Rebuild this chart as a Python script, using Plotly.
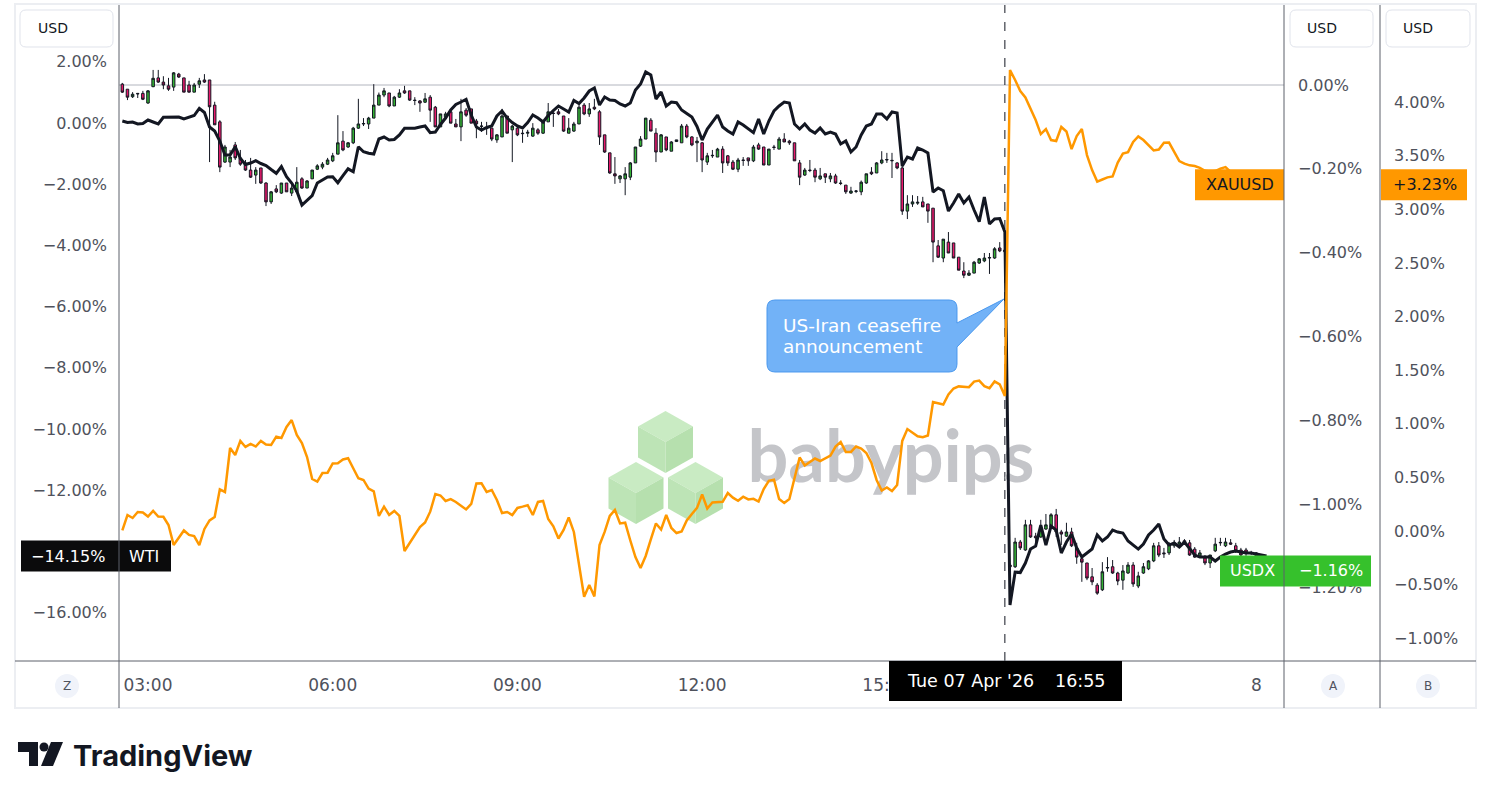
import numpy as np
import pandas as pd
import plotly.graph_objects as go

# ---------------- data (percent change) ----------------
times = list(pd.date_range("2026-04-07 02:35", "2026-04-07 16:55", freq="5min")) + \
        list(pd.date_range("2026-04-07 20:00", periods=51, freq="5min"))
event_time = pd.Timestamp("2026-04-07 16:55")
axis_time_labels = ["03:00", "06:00", "09:00", "12:00", "15:00"]

usdx_open = [0.002, -0.010, -0.028, -0.020, -0.020, -0.043, -0.004, 0.017, 0.007, -0.002,
 -0.005, 0.026, 0.017, 0.000, -0.017, 0.002, 0.012, 0.012, -0.048, -0.088,
 -0.184, -0.184, -0.143, -0.174, -0.186, -0.203, -0.215, -0.198, -0.234, -0.279,
 -0.248, -0.258, -0.234, -0.258, -0.255, -0.224, -0.246, -0.224, -0.201, -0.196,
 -0.189, -0.181, -0.165, -0.134, -0.148, -0.138, -0.103, -0.093, -0.093, -0.079,
 -0.048, -0.024, -0.019, -0.050, -0.029, -0.014, -0.014, -0.036, -0.038, -0.041,
 -0.029, -0.053, -0.100, -0.076, -0.064, -0.093, -0.100, -0.060, -0.057, -0.086,
 -0.099, -0.103, -0.103, -0.131, -0.124, -0.074, -0.107, -0.103, -0.115, -0.115,
 -0.122, -0.107, -0.115, -0.088, -0.067, -0.064, -0.074, -0.115, -0.110, -0.093,
 -0.048, -0.069, -0.053, -0.064, -0.119, -0.162, -0.212, -0.224, -0.224, -0.220,
 -0.186, -0.146, -0.129, -0.084, -0.115, -0.160, -0.124, -0.158, -0.135, -0.138,
 -0.098, -0.124, -0.138, -0.138, -0.184, -0.169, -0.172, -0.153, -0.169, -0.184,
 -0.201, -0.179, -0.174, -0.181, -0.143, -0.148, -0.191, -0.148, -0.153, -0.129,
 -0.134, -0.138, -0.186, -0.215, -0.203, -0.203, -0.224, -0.212, -0.224, -0.217,
 -0.234, -0.239, -0.258, -0.254, -0.255, -0.234, -0.208, -0.210, -0.186, -0.179,
 -0.181, -0.186, -0.198, -0.301, -0.284, -0.282, -0.279, -0.284, -0.294, -0.384,
 -0.413, -0.375, -0.377, -0.411, -0.444, -0.454, -0.449, -0.425, -0.420, -0.413,
 -0.413, -0.389, -0.394, -1.146, -1.150, -1.091, -1.110, -1.050, -1.077, -1.079,
 -1.060, -1.055, -1.026, -1.067, -1.077, -1.067, -1.105, -1.131, -1.141, -1.174,
 -1.194, -1.205, -1.153, -1.150, -1.165, -1.182, -1.165, -1.146, -1.196, -1.165,
 -1.155, -1.136, -1.100, -1.117, -1.117, -1.100, -1.096, -1.088, -1.093, -1.108,
 -1.124, -1.129, -1.141, -1.112, -1.093, -1.100, -1.093, -1.100, -1.110, -1.110,
 -1.117, -1.117, -1.124, -1.134]

usdx_high = [0.005, -0.010, -0.017, -0.019, -0.014, -0.012, 0.036, 0.036, 0.021, 0.017,
 0.031, 0.029, 0.017, 0.010, 0.005, 0.017, 0.026, 0.012, -0.040, -0.084,
 -0.143, -0.155, -0.136, -0.155, -0.179, -0.174, -0.196, -0.198, -0.232, -0.253,
 -0.239, -0.234, -0.234, -0.239, -0.196, -0.220, -0.227, -0.203, -0.189, -0.184,
 -0.174, -0.162, -0.072, -0.110, -0.136, -0.100, -0.033, -0.079, -0.076, 0.002,
 -0.018, -0.007, -0.019, -0.026, -0.010, -0.002, -0.014, -0.029, -0.036, -0.019,
 -0.024, -0.050, -0.069, -0.064, -0.060, -0.081, -0.033, -0.055, -0.057, -0.081,
 -0.088, -0.088, -0.103, -0.117, -0.057, -0.074, -0.095, -0.100, -0.107, -0.107,
 -0.091, -0.103, -0.086, -0.043, -0.060, -0.057, -0.074, -0.079, -0.088, -0.048,
 -0.043, -0.043, -0.033, -0.060, -0.119, -0.162, -0.172, -0.215, -0.196, -0.184,
 -0.148, -0.122, -0.079, -0.079, -0.103, -0.117, -0.124, -0.134, -0.131, -0.093,
 -0.093, -0.122, -0.124, -0.136, -0.162, -0.155, -0.150, -0.146, -0.167, -0.179,
 -0.174, -0.172, -0.174, -0.143, -0.138, -0.148, -0.153, -0.143, -0.124, -0.115,
 -0.131, -0.138, -0.179, -0.198, -0.179, -0.198, -0.198, -0.212, -0.210, -0.212,
 -0.227, -0.239, -0.243, -0.251, -0.228, -0.212, -0.196, -0.184, -0.158, -0.162,
 -0.162, -0.184, -0.186, -0.263, -0.263, -0.265, -0.267, -0.284, -0.294, -0.370,
 -0.368, -0.351, -0.377, -0.411, -0.423, -0.442, -0.420, -0.413, -0.401, -0.401,
 -0.387, -0.375, -0.382, -1.141, -1.081, -1.086, -1.038, -1.038, -1.069, -1.038,
 -1.024, -1.022, -1.012, -1.062, -1.045, -1.057, -1.093, -1.129, -1.141, -1.153,
 -1.189, -1.139, -1.127, -1.134, -1.162, -1.146, -1.139, -1.139, -1.162, -1.141,
 -1.134, -1.093, -1.091, -1.105, -1.091, -1.086, -1.079, -1.084, -1.086, -1.103,
 -1.110, -1.122, -1.122, -1.081, -1.081, -1.081, -1.084, -1.093, -1.105, -1.105,
 -1.112, -1.115, -1.122, -1.129]

usdx_low = [-0.019, -0.036, -0.031, -0.031, -0.036, -0.045, -0.005, 0.005, -0.010, -0.014,
 -0.014, 0.017, -0.017, -0.018, -0.017, -0.007, 0.005, -0.184, -0.095, -0.208,
 -0.186, -0.196, -0.179, -0.193, -0.205, -0.222, -0.236, -0.236, -0.289, -0.284,
 -0.258, -0.260, -0.255, -0.265, -0.255, -0.248, -0.246, -0.224, -0.203, -0.201,
 -0.191, -0.184, -0.165, -0.158, -0.150, -0.141, -0.105, -0.098, -0.105, -0.079,
 -0.048, -0.029, -0.053, -0.050, -0.031, -0.021, -0.038, -0.048, -0.064, -0.043,
 -0.088, -0.100, -0.100, -0.079, -0.091, -0.100, -0.134, -0.076, -0.091, -0.127,
 -0.112, -0.119, -0.134, -0.138, -0.124, -0.115, -0.184, -0.122, -0.138, -0.124,
 -0.124, -0.119, -0.117, -0.088, -0.100, -0.072, -0.112, -0.115, -0.112, -0.093,
 -0.072, -0.076, -0.060, -0.143, -0.162, -0.212, -0.236, -0.234, -0.263, -0.227,
 -0.186, -0.148, -0.129, -0.110, -0.184, -0.160, -0.158, -0.158, -0.136, -0.138,
 -0.127, -0.146, -0.184, -0.208, -0.191, -0.174, -0.172, -0.210, -0.193, -0.203,
 -0.208, -0.193, -0.193, -0.184, -0.155, -0.191, -0.191, -0.155, -0.153, -0.136,
 -0.143, -0.181, -0.239, -0.217, -0.208, -0.232, -0.227, -0.234, -0.232, -0.236,
 -0.239, -0.260, -0.260, -0.258, -0.263, -0.236, -0.215, -0.210, -0.189, -0.186,
 -0.222, -0.201, -0.310, -0.320, -0.291, -0.286, -0.291, -0.329, -0.423, -0.413,
 -0.423, -0.401, -0.413, -0.442, -0.461, -0.456, -0.449, -0.427, -0.423, -0.451,
 -0.415, -0.399, -0.401, -1.158, -1.153, -1.110, -1.112, -1.081, -1.091, -1.081,
 -1.062, -1.057, -1.079, -1.098, -1.079, -1.103, -1.143, -1.186, -1.182, -1.194,
 -1.217, -1.208, -1.162, -1.167, -1.194, -1.205, -1.167, -1.198, -1.201, -1.167,
 -1.158, -1.139, -1.127, -1.129, -1.122, -1.105, -1.103, -1.098, -1.124, -1.129,
 -1.129, -1.146, -1.153, -1.115, -1.100, -1.103, -1.098, -1.117, -1.127, -1.124,
 -1.122, -1.129, -1.139, -1.165]

usdx_close = [-0.017, -0.029, -0.022, -0.021, -0.034, -0.014, 0.016, 0.007, 0.000, -0.010,
 0.029, 0.019, -0.017, -0.017, 0.000, 0.010, 0.007, -0.052, -0.095, -0.196,
 -0.148, -0.172, -0.174, -0.189, -0.203, -0.220, -0.203, -0.234, -0.279, -0.255,
 -0.255, -0.234, -0.255, -0.246, -0.232, -0.246, -0.229, -0.203, -0.193, -0.189,
 -0.179, -0.169, -0.138, -0.155, -0.138, -0.103, -0.093, -0.092, -0.079, -0.048,
 -0.024, -0.014, -0.050, -0.029, -0.019, -0.019, -0.036, -0.037, -0.043, -0.033,
 -0.060, -0.100, -0.069, -0.069, -0.091, -0.100, -0.064, -0.072, -0.091, -0.093,
 -0.098, -0.104, -0.129, -0.119, -0.074, -0.115, -0.098, -0.119, -0.116, -0.113,
 -0.103, -0.115, -0.088, -0.064, -0.068, -0.069, -0.110, -0.103, -0.093, -0.053,
 -0.069, -0.057, -0.057, -0.124, -0.160, -0.210, -0.217, -0.217, -0.212, -0.186,
 -0.148, -0.129, -0.079, -0.110, -0.160, -0.119, -0.155, -0.136, -0.131, -0.098,
 -0.124, -0.143, -0.134, -0.179, -0.169, -0.168, -0.153, -0.186, -0.186, -0.201,
 -0.179, -0.180, -0.181, -0.148, -0.153, -0.191, -0.153, -0.149, -0.129, -0.136,
 -0.138, -0.181, -0.220, -0.203, -0.204, -0.220, -0.217, -0.220, -0.217, -0.234,
 -0.235, -0.255, -0.253, -0.253, -0.232, -0.212, -0.212, -0.186, -0.179, -0.178,
 -0.180, -0.198, -0.301, -0.284, -0.279, -0.280, -0.291, -0.301, -0.375, -0.411,
 -0.368, -0.401, -0.413, -0.442, -0.454, -0.449, -0.423, -0.415, -0.413, -0.412,
 -0.391, -0.396, -0.398, -1.150, -1.091, -1.105, -1.050, -1.079, -1.081, -1.062,
 -1.050, -1.026, -1.067, -1.072, -1.067, -1.100, -1.127, -1.139, -1.177, -1.186,
 -1.213, -1.162, -1.152, -1.165, -1.184, -1.160, -1.146, -1.191, -1.172, -1.150,
 -1.136, -1.100, -1.122, -1.119, -1.096, -1.093, -1.091, -1.096, -1.122, -1.127,
 -1.117, -1.141, -1.122, -1.096, -1.092, -1.091, -1.096, -1.112, -1.122, -1.117,
 -1.118, -1.124, -1.134, -1.160]

wti_pct = [0.065, 0.016, 0.033, -0.033, -0.016, 0.098, 0.033, -0.033, 0.186, 0.196,
 0.206, 0.196, 0.131, 0.196, 0.245, 0.480, 0.343, -0.131, -0.261, -0.588,
 -1.046, -1.046, -0.775, -1.160, -1.356, -1.307, -1.232, -1.324, -1.389, -1.520,
 -1.644, -1.422, -1.755, -1.961, -2.222, -2.680, -2.516, -2.369, -1.961, -1.863,
 -1.765, -1.755, -1.951, -1.722, -1.497, -1.592, -0.775, -0.938, -0.990, -1.013,
 -0.523, -0.458, -0.556, -0.539, -0.392, -0.173, -0.173, -0.173, -0.131, -0.098,
 -0.317, -0.294, -0.049, 0.163, 0.425, 0.605, 0.686, 0.775, 0.261, -0.131,
 -0.229, -0.147, -0.098, 0.229, 0.392, 0.163, 0.016, -0.098, -0.163, 0.016,
 0.261, 0.163, 0.033, 0.245, 0.408, 0.556, 0.458, 0.359, 0.735, 0.637,
 0.817, 1.046, 1.144, 0.588, 0.850, 0.752, 0.735, 0.621, 0.556, 0.654,
 1.078, 1.275, 1.667, 1.569, 0.784, 1.013, 0.556, 0.686, 0.663, 0.425,
 0.310, 0.196, -0.114, -0.556, -0.196, 0.033, 0.261, -0.131, -0.261, -0.359,
 0.033, -0.065, -0.196, -0.317, 0.131, -0.359, 0.065, 0.392, 0.556, 0.686,
 0.654, -0.033, -0.196, -0.033, -0.229, -0.327, -0.163, -0.359, -0.294, -0.359,
 -0.686, -0.588, -0.948, -0.784, -0.392, -0.098, -0.033, 0.294, 0.294, 0.131,
 0.359, 0.327, -1.405, -1.111, -1.176, -0.817, -0.882, -0.980, -2.255, -2.124,
 -2.212, -2.876, -2.614, -2.320, -2.614, -2.418, -2.843, -3.225, -2.418, -3.301,
 -3.137, -3.121, -3.562, -15.752, -14.673, -14.690, -14.379, -13.922, -13.824, -13.137,
 -13.791, -13.170, -13.301, -14.052, -13.693, -13.431, -13.889, -14.183, -14.052, -13.922,
 -13.464, -13.660, -13.529, -13.301, -13.366, -13.399, -13.660, -13.791, -13.922, -13.758,
 -13.464, -13.301, -13.105, -13.595, -13.791, -13.725, -13.856, -13.693, -13.922, -14.118,
 -14.183, -14.183, -14.183, -14.314, -14.183, -14.085, -14.020, -13.987, -14.020, -14.052,
 -14.052, -14.085, -14.118, -14.150]

xau_pct = [0.005, 0.149, 0.121, 0.177, 0.173, 0.135, 0.187, 0.135, 0.133, 0.056,
 -0.131, -0.065, 0.005, -0.037, -0.047, -0.131, 0.019, 0.098, 0.131, 0.389,
 0.364, 0.774, 0.709, 0.840, 0.784, 0.812, 0.788, 0.840, 0.807, 0.802,
 0.880, 0.868, 0.970, 1.035, 0.896, 0.821, 0.690, 0.485, 0.460, 0.541,
 0.544, 0.630, 0.632, 0.667, 0.678, 0.585, 0.492, 0.476, 0.396, 0.370,
 0.140, 0.227, 0.149, 0.187, 0.140, -0.187, -0.112, -0.028, 0.037, 0.079,
 0.180, 0.345, 0.331, 0.280, 0.298, 0.271, 0.233, 0.201, 0.252, 0.443,
 0.445, 0.364, 0.382, 0.289, 0.168, 0.177, 0.149, 0.215, 0.227, 0.240,
 0.149, 0.271, 0.280, 0.112, 0.044, -0.070, 0.009, 0.126, -0.009, -0.308,
 -0.613, -0.504, -0.611, -0.131, -0.009, 0.140, 0.196, 0.070, 0.077, -0.089,
 -0.243, -0.345, -0.233, -0.079, 0.070, 0.014, 0.149, 0.028, -0.019, -0.005,
 0.098, 0.159, 0.215, 0.340, 0.210, 0.266, 0.268, 0.272, 0.354, 0.311,
 0.282, 0.320, 0.294, 0.300, 0.275, 0.392, 0.468, 0.479, 0.298, 0.261,
 0.298, 0.485, 0.686, 0.611, 0.644, 0.676, 0.653, 0.676, 0.704, 0.788,
 0.830, 0.737, 0.737, 0.788, 0.768, 0.728, 0.634, 0.476, 0.378, 0.406,
 0.373, 0.429, 0.840, 0.951, 0.919, 0.884, 0.875, 0.891, 1.203, 1.194,
 1.180, 1.273, 1.329, 1.349, 1.348, 1.342, 1.394, 1.403, 1.351, 1.332,
 1.395, 1.368, 1.259, 4.300, 4.207, 4.104, 4.044, 3.946, 3.834, 3.703,
 3.750, 3.647, 3.638, 3.769, 3.727, 3.563, 3.685, 3.750, 3.507, 3.367,
 3.260, 3.279, 3.299, 3.307, 3.437, 3.520, 3.534, 3.629, 3.681, 3.647,
 3.601, 3.550, 3.559, 3.622, 3.624, 3.535, 3.451, 3.427, 3.411, 3.405,
 3.387, 3.360, 3.353, 3.358, 3.381, 3.395, 3.349, 3.321, 3.293, 3.274,
 3.256, 3.246, 3.237, 3.230]

wti_ticks = [2, 0, -2, -4, -6, -8, -10, -12, -16]
usdx_ticks = [0, -0.2, -0.4, -0.6, -0.8, -1.0, -1.2]
xau_ticks = [4.0, 3.5, 3.0, 2.5, 2.0, 1.5, 1.0, 0.5, 0.0, -0.5, -1.0]

# ---------------- helpers ----------------
W, H = 1491, 799
PL, PR, PT, PB = 119, 1380, 5, 661          # plot area in pixels
AX_A = 1284                                  # first right scale line


def px(xp):
    return (xp - PL) / (PR - PL)


def py(yp):
    return (PB - yp) / (PB - PT)


def pct(v, sign=False):
    s = f"{v:+.2f}%" if sign else f"{v:.2f}%"
    return s.replace("-", "\u2212")


def P(X, Y):
    return f"{px(X):.5f},{py(Y):.5f}"


def rr_path(x0, y0, x1, y1, r):
    return (f"M {P(x0 + r, y0)} L {P(x1 - r, y0)} Q {P(x1, y0)} {P(x1, y0 + r)} "
            f"L {P(x1, y1 - r)} Q {P(x1, y1)} {P(x1 - r, y1)} L {P(x0 + r, y1)} "
            f"Q {P(x0, y1)} {P(x0, y1 - r)} L {P(x0, y0 + r)} Q {P(x0, y0)} {P(x0 + r, y0)} Z")


def poly_path(pts):
    return "M " + " L ".join(P(a, b) for a, b in pts) + " Z"


x = np.arange(len(times))
event_idx = times.index(event_time)
tick_vals, tick_text = [], []
for i, t in enumerate(times):
    if t.strftime("%H:%M") in axis_time_labels and t.day == 7:
        tick_vals.append(i); tick_text.append(t.strftime("%H:%M"))
    if t.hour == 0 and t.minute == 0:
        tick_vals.append(i); tick_text.append(str(t.day))

FONT = "DejaVu Sans"
LBL = "#4f525c"
AXLINE = "#5d606b"
GREEN = "#36c12c"
ORANGE = "#ff9800"

fig = go.Figure()

# watermark text (base subplot, below everything)
fig.add_trace(go.Scatter(x=[149.8], y=[0.30], mode="text", text=["babypips"],
                         textfont=dict(family="Lato", size=72, color="#c4c5c9", weight="bold"),
                         xaxis="x", yaxis="y", hoverinfo="skip", showlegend=False))

fig.add_trace(go.Candlestick(x=x, open=usdx_open, high=usdx_high, low=usdx_low, close=usdx_close,
                             xaxis="x", yaxis="y2", whiskerwidth=0,
                             increasing=dict(line=dict(color="#131722", width=1), fillcolor="#34b233"),
                             decreasing=dict(line=dict(color="#131722", width=1), fillcolor="#e8196b"),
                             hoverinfo="skip", showlegend=False, name="USDX"))

fig.add_trace(go.Scatter(x=x, y=wti_pct, mode="lines", xaxis="x", yaxis="y3",
                         line=dict(color="#131722", width=3), hoverinfo="skip",
                         showlegend=False, name="WTI"))

fig.add_trace(go.Scatter(x=x, y=xau_pct, mode="lines", xaxis="x", yaxis="y4",
                         line=dict(color=ORANGE, width=2.5), hoverinfo="skip",
                         showlegend=False, name="XAUUSD"))

shapes = []
annotations = []

# outer frame
shapes.append(dict(type="rect", xref="paper", yref="paper", x0=px(15), x1=px(1476),
                   y0=py(708), y1=py(4), line=dict(color="#eceef2", width=2), layer="below"))

# watermark cubes
for cx, cy in [(665.5, 442), (636, 493), (695.5, 493)]:
    T = (cx, cy - 31); UR = (cx + 27.5, cy - 15.5); LR = (cx + 27.5, cy + 15.5)
    B = (cx, cy + 31); LL = (cx - 27.5, cy + 15.5); UL = (cx - 27.5, cy - 15.5); C = (cx, cy)
    for pts, col in [([T, UR, C, UL], "#c9ebc3"), ([UL, C, B, LL], "#bde4b6"), ([C, UR, LR, B], "#b6e0ae")]:
        shapes.append(dict(type="path", xref="paper", yref="paper", path=poly_path(pts),
                           fillcolor=col, line=dict(width=0), layer="below"))

# reference line at USDX 0 and event line
shapes.append(dict(type="line", xref="paper", yref="y2", x0=0, x1=px(AX_A), y0=0, y1=0,
                   line=dict(color="#b2b5be", width=1), layer="below"))
shapes.append(dict(type="line", xref="x", yref="paper", x0=event_idx, x1=event_idx, y0=0, y1=1,
                   line=dict(color="#131722", width=1, dash="dash"), layer="below"))

# callout
callout = (f"M {P(775,300)} L {P(949,300)} Q {P(957,300)} {P(957,308)} L {P(957,323)} "
           f"L {P(1004,299)} L {P(957,347)} L {P(957,364)} Q {P(957,372)} {P(949,372)} "
           f"L {P(775,372)} Q {P(767,372)} {P(767,364)} L {P(767,308)} Q {P(767,300)} {P(775,300)} Z")
shapes.append(dict(type="path", xref="paper", yref="paper", path=callout,
                   fillcolor="#72b2f7", line=dict(color="#4a98ee", width=1), layer="above"))
for line_txt, yl in [("US-Iran ceasefire", 325), ("announcement", 346)]:
    annotations.append(dict(xref="paper", yref="paper", x=px(781), y=py(yl), xanchor="left",
                            yanchor="middle", align="left", showarrow=False, text=line_txt,
                            font=dict(family=FONT, size=18.5, color="white")))

# last-value labels
def value_label(x0, x1, yref, yv, color):
    shapes.append(dict(type="rect", xref="paper", yref=yref, x0=px(x0), x1=px(x1),
                       ysizemode="pixel", yanchor=yv, y0=-15.5, y1=15.5,
                       fillcolor=color, line=dict(width=0), layer="above"))

def label_text(xc, yref, yv, text, color):
    annotations.append(dict(xref="paper", yref=yref, x=px(xc), y=yv, text=text, showarrow=False,
                            xanchor="center", yanchor="middle",
                            font=dict(family=FONT, size=16, color=color)))

value_label(21, 171, "y3", wti_pct[-1], "#0b0b0c")
label_text(68, "y3", wti_pct[-1], pct(wti_pct[-1]), "white")
label_text(144, "y3", wti_pct[-1], "WTI", "white")

value_label(1195, AX_A, "y4", xau_pct[-1], ORANGE)
value_label(1381, 1467, "y4", xau_pct[-1], ORANGE)
label_text(1239.5, "y4", xau_pct[-1], "XAUUSD", "#131722")
label_text(1425, "y4", xau_pct[-1], pct(xau_pct[-1], sign=True), "#131722")

value_label(1220, 1371, "y2", usdx_close[-1], GREEN)
label_text(1252.5, "y2", usdx_close[-1], "USDX", "white")
label_text(1330.5, "y2", usdx_close[-1], pct(usdx_close[-1]), "white")

# scale separators and axis lines (above labels)
for xl in (PL, AX_A, PR):
    shapes.append(dict(type="line", xref="paper", yref="paper", x0=px(xl), x1=px(xl),
                       y0=py(708), y1=py(5), line=dict(color=AXLINE, width=1), layer="above"))
shapes.append(dict(type="line", xref="paper", yref="paper", x0=px(15), x1=px(1476),
                   y0=0, y1=0, line=dict(color=AXLINE, width=1), layer="above"))

# USD currency boxes
for bx0, bx1, tx in [(20, 113, 36), (1290, 1373, 1305), (1386, 1470, 1401)]:
    shapes.append(dict(type="path", xref="paper", yref="paper", path=rr_path(bx0, 10, bx1, 47, 6),
                       fillcolor="white", line=dict(color="#e0e3eb", width=1), layer="above"))
    annotations.append(dict(xref="paper", yref="paper", x=px(tx), y=py(28.5), text="USD",
                            showarrow=False, xanchor="left", yanchor="middle",
                            font=dict(family=FONT, size=14, color="#131722")))

# bottom scale badges
for cxp, letter in [(67, "Z"), (1333, "A"), (1428, "B")]:
    shapes.append(dict(type="circle", xref="paper", yref="paper", x0=px(cxp - 12), x1=px(cxp + 12),
                       y0=py(698), y1=py(674), fillcolor="#f0f3fa", line=dict(width=0), layer="above"))
    annotations.append(dict(xref="paper", yref="paper", x=px(cxp), y=py(686), text=letter,
                            showarrow=False, xanchor="center", yanchor="middle",
                            font=dict(family=FONT, size=12, color="#50535e")))

# crosshair time label
shapes.append(dict(type="rect", xref="paper", yref="paper", x0=px(889), x1=px(1122),
                   y0=py(701), y1=py(661), fillcolor="#000000", line=dict(width=0), layer="above"))
annotations.append(dict(xref="paper", yref="paper", x=px(970), y=py(681),
                        text=event_time.strftime("%a %d %b '%y"), showarrow=False,
                        xanchor="center", yanchor="middle", font=dict(family=FONT, size=17.5, color="white")))
annotations.append(dict(xref="paper", yref="paper", x=px(1080), y=py(681),
                        text=event_time.strftime("%H:%M"), showarrow=False,
                        xanchor="center", yanchor="middle", font=dict(family=FONT, size=17.5, color="white")))

# TradingView logo
shapes.append(dict(type="path", xref="paper", yref="paper",
                   path=poly_path([(18, 742), (38, 742), (38, 766), (29, 766), (29, 752), (18, 752)]),
                   fillcolor="#131722", line=dict(width=0), layer="above"))
shapes.append(dict(type="circle", xref="paper", yref="paper", x0=px(39.5), x1=px(48.5),
                   y0=py(751.5), y1=py(742.5), fillcolor="#131722", line=dict(width=0), layer="above"))
shapes.append(dict(type="path", xref="paper", yref="paper",
                   path=poly_path([(51, 742), (63, 742), (53, 766), (41, 766)]),
                   fillcolor="#131722", line=dict(width=0), layer="above"))
annotations.append(dict(xref="paper", yref="paper", x=px(71), y=py(755), text="<b>TradingView</b>",
                        showarrow=False, xanchor="left", yanchor="middle",
                        font=dict(family="Inter", size=29, color="#131722")))

axis_font = dict(family=FONT, size=16, color=LBL)

fig.update_layout(
    width=W, height=H, template="none",
    margin=dict(l=PL, r=W - PR, t=PT, b=H - PB, pad=0),
    paper_bgcolor="white", plot_bgcolor="white",
    showlegend=False, hovermode=False,
    xaxis=dict(domain=[0, px(AX_A)], range=[-0.65, 226.4], anchor="y",
               tickmode="array", tickvals=tick_vals, ticktext=tick_text,
               showgrid=False, zeroline=False, showline=False, ticks="",
               tickfont=dict(family=FONT, size=17, color=LBL), ticklabelstandoff=12,
               rangeslider=dict(visible=False), fixedrange=True),
    yaxis=dict(range=[0, 1], visible=False, fixedrange=True),
    yaxis2=dict(overlaying="y", anchor="free", position=px(AX_A), side="right",
                range=[-1.375, 0.191], tickmode="array", tickvals=usdx_ticks,
                ticktext=[pct(v) for v in usdx_ticks], showgrid=False, zeroline=False,
                showline=False, ticks="", tickfont=axis_font, ticklabelstandoff=13, fixedrange=True),
    yaxis3=dict(overlaying="y", anchor="x", side="left",
                range=[-17.58, 3.856], tickmode="array", tickvals=wti_ticks,
                ticktext=[pct(v) for v in wti_ticks], showgrid=False, zeroline=False,
                showline=False, ticks="", tickfont=axis_font, ticklabelstandoff=11, fixedrange=True),
    yaxis4=dict(overlaying="y", anchor="free", position=1.0, side="right",
                range=[-1.213, 4.907], tickmode="array", tickvals=xau_ticks,
                ticktext=[pct(v) for v in xau_ticks], showgrid=False, zeroline=False,
                showline=False, ticks="", tickfont=axis_font, ticklabelstandoff=13, fixedrange=True),
    shapes=shapes, annotations=annotations,
)

fig.write_html("out.html")
